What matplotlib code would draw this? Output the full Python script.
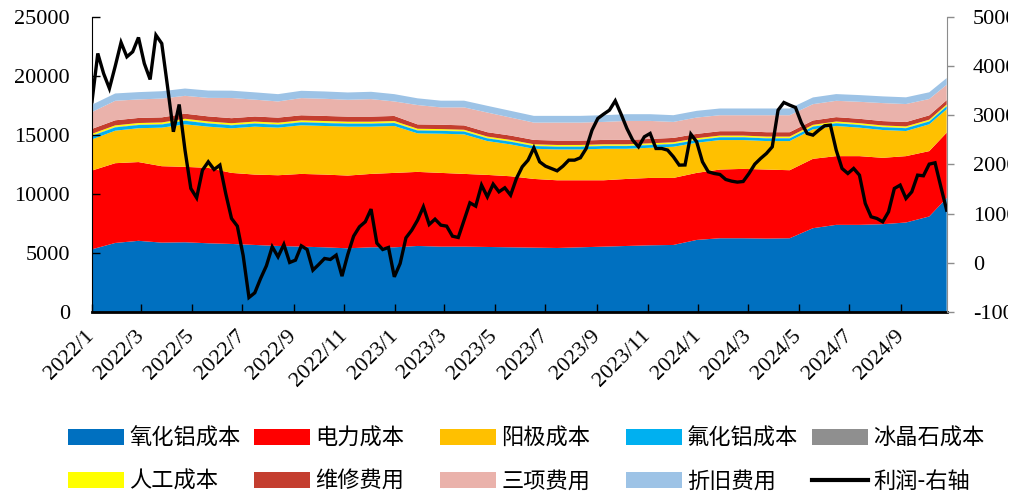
import matplotlib
matplotlib.use('Agg')
import matplotlib.pyplot as plt
import pandas as pd
from matplotlib.patches import Patch
from matplotlib.lines import Line2D
from matplotlib.font_manager import FontProperties
from matplotlib.transforms import Bbox, TransformedBbox

# ---------------- data ----------------
start_date = '2022-01-01'

# weekly profit (right axis)
profit = [3275, 4258, 3850, 3546, 4000, 4482, 4190, 4292, 4583, 4054,
          3729, 4631, 4461, 3580, 2665, 3220, 2292, 1512, 1322, 1885,
          2054, 1898, 1987, 1410, 902, 746, 150, -705, -610, -319,
          -60, 325, 122, 373, 7, 54, 346, 271, -149, -34,
          88, 68, 156, -271, 170, 542, 732, 834, 1092, 400,
          271, 312, -285, -14, 508, 664, 868, 1139, 780, 888,
          766, 746, 542, 515, 868, 1220, 1153, 1580, 1342, 1600,
          1444, 1525, 1376, 1715, 1953, 2088, 2339, 2054, 1966, 1919,
          1871, 1966, 2088, 2088, 2136, 2325, 2698, 2936, 3024, 3105,
          3295, 3024, 2732, 2495, 2359, 2563, 2631, 2325, 2325, 2292,
          2156, 1987, 1990, 2617, 2461, 2054, 1851, 1817, 1797, 1695,
          1661, 1641, 1654, 1817, 2007, 2122, 2224, 2359, 3105, 3261,
          3207, 3159, 2848, 2631, 2597, 2698, 2787, 2800, 2292, 1919,
          1817, 1919, 1783, 1207, 936, 902, 834, 1037, 1512, 1580,
          1309, 1444, 1783, 1770, 2007, 2034, 1546, 1071]

# week numbers at which the cost components were read
area_weeks = [0, 4, 8, 12, 16, 20, 24, 28, 32, 36, 40, 44, 48, 52, 56, 60,
              64, 68, 72, 76, 80, 84, 88, 92, 96, 100, 104, 108, 112, 116,
              120, 124, 128, 132, 136, 140, 144, 147]

alumina = [5311, 5850, 6030, 5879, 5907, 5822, 5765, 5680, 5595, 5538,
           5481, 5396, 5481, 5481, 5595, 5538, 5538, 5510, 5481, 5453,
           5424, 5481, 5538, 5595, 5651, 5680, 6106, 6248, 6248, 6220,
           6248, 7100, 7384, 7384, 7441, 7583, 8094, 9656]
power = [6674, 6759, 6674, 6475, 6390, 6390, 6021, 5964, 5992, 6163,
         6163, 6163, 6220, 6305, 6276, 6248, 6163, 6106, 6021, 5822,
         5737, 5680, 5623, 5680, 5709, 5680, 5680, 5822, 5879, 5850,
         5765, 5879, 5822, 5822, 5623, 5623, 5538, 5538]
anode = [2641, 2755, 2868, 3266, 3607, 3493, 3777, 4061, 4033, 4118,
         4118, 4146, 4004, 3976, 3266, 3323, 3351, 2868, 2698, 2556,
         2613, 2613, 2670, 2556, 2556, 2641, 2556, 2499, 2442, 2414,
         2471, 2499, 2556, 2414, 2357, 2130, 2272, 1988]
alf3 = [300, 280, 270, 270, 300, 270, 260, 260, 250, 250,
        250, 250, 250, 250, 240, 240, 240, 230, 230, 230,
        230, 230, 230, 230, 230, 230, 230, 230, 230, 230,
        230, 230, 230, 230, 235, 240, 240, 250]
cryolite = [40, 40, 40, 40, 40, 40, 40, 40, 40, 40,
            40, 40, 40, 40, 35, 35, 35, 35, 35, 35,
            35, 35, 35, 35, 35, 35, 35, 35, 35, 35,
            35, 35, 35, 35, 35, 35, 35, 35]
labor = [130, 130, 130, 130, 130, 130, 130, 130, 130, 130,
         130, 130, 130, 130, 115, 115, 115, 115, 115, 115,
         115, 115, 115, 115, 115, 115, 115, 115, 115, 115,
         115, 115, 115, 115, 115, 115, 115, 115]
repair = [420, 430, 430, 430, 430, 430, 430, 430, 430, 430,
          430, 430, 430, 430, 370, 370, 370, 370, 370, 370,
          370, 370, 370, 370, 370, 370, 370, 370, 370, 370,
          370, 370, 370, 370, 370, 370, 370, 370]
three_fees = [1427, 1654, 1569, 1597, 1512, 1569, 1711, 1427, 1370, 1455,
              1455, 1427, 1484, 1228, 1639, 1468, 1525, 1667, 1525, 1468,
              1525, 1525, 1525, 1610, 1525, 1355, 1383, 1355, 1355, 1440,
              1440, 1383, 1383, 1440, 1525, 1525, 1383, 1298]
depreciation = [620, 620, 620, 620, 620, 620, 620, 620, 620, 620,
                620, 620, 620, 620, 570, 570, 570, 570, 570, 570,
                570, 570, 570, 570, 570, 570, 570, 570, 570, 570,
                570, 570, 570, 570, 570, 570, 570, 570]

series_names = ['氧化铝成本', '电力成本', '阳极成本', '氟化铝成本', '冰晶石成本',
                '人工成本', '维修费用', '三项费用', '折旧费用']
line_name = '利润-右轴'
colors = ['#0070C0', '#FF0000', '#FFC000', '#00B0F0', '#8F8F8F',
          '#FFFF00', '#C43E2F', '#EAB2AB', '#9DC3E6']

tick_dates = ['2022-01-01', '2022-03-01', '2022-05-01', '2022-07-01', '2022-09-01',
              '2022-11-01', '2023-01-01', '2023-03-01', '2023-05-01', '2023-07-01',
              '2023-09-01', '2023-11-01', '2024-01-01', '2024-03-01', '2024-05-01',
              '2024-07-01', '2024-09-01']
tick_labels = ['2022/1', '2022/3', '2022/5', '2022/7', '2022/9', '2022/11',
               '2023/1', '2023/3', '2023/5', '2023/7', '2023/9', '2023/11',
               '2024/1', '2024/3', '2024/5', '2024/7', '2024/9']

left_ticks = [0, 5000, 10000, 15000, 20000, 25000]
right_ticks = [-1000, 0, 1000, 2000, 3000, 4000, 5000]

# ---------------- figure ----------------
week_dates = pd.date_range(start_date, periods=len(profit), freq='7D')
area_dates = week_dates[area_weeks]

serif = 'Liberation Serif'
fig = plt.figure(figsize=(10.3, 4.96), dpi=100)
ax = fig.add_axes([0.0893, 0.371, 0.8298, 0.5948])

ax.stackplot(area_dates, alumina, power, anode, alf3, cryolite, labor,
             repair, three_fees, depreciation, colors=colors, linewidth=0)
ax.set_xlim(week_dates[0], week_dates[-1])
ax.set_ylim(left_ticks[0], left_ticks[-1])
ax.set_yticks(left_ticks)
ax.set_yticklabels([str(v) for v in left_ticks], fontfamily=serif, fontsize=16)
ax.set_xticks(pd.to_datetime(tick_dates))
ax.set_xticklabels(tick_labels, rotation=45, ha='right', va='center',
                   rotation_mode='anchor', fontfamily=serif, fontsize=16)
ax.tick_params(axis='y', direction='in', length=6, width=1, pad=16, colors='black')
ax.tick_params(axis='x', direction='in', length=6, width=1, pad=15)
for s in ['top', 'right']:
    ax.spines[s].set_visible(False)
ax.spines['left'].set_color('black')
ax.spines['bottom'].set_linewidth(2)

ax2 = ax.twinx()
ax2.plot(week_dates, profit, color='black', linewidth=2.4, solid_joinstyle='miter')
ax2.set_ylim(right_ticks[0], right_ticks[-1])
ax2.set_yticks(right_ticks)
ax2.set_yticklabels([str(v) for v in right_ticks], fontfamily=serif, fontsize=16)
ax2.tick_params(axis='y', direction='out', length=5, width=1, color='#8C8C8C',
                labelcolor='black', pad=14)
for s in ['top', 'left', 'bottom']:
    ax2.spines[s].set_visible(False)
ax2.spines['right'].set_color('#8C8C8C')

# the source image is cut just right of the right-axis labels
clip = TransformedBbox(Bbox([[0, 0], [1008 / 1030, 1]]), fig.transFigure)
for lbl in ax2.get_yticklabels():
    lbl.set_clip_box(clip)
    lbl.set_clip_on(True)

# ---------------- legend ----------------
handles = [Patch(facecolor=c, edgecolor='none') for c in colors]
handles.append(Line2D([], [], color='black', linewidth=3))
labels = series_names + [line_name]
prop = FontProperties(family=['Noto Sans CJK SC', 'DejaVu Sans'], size=16)
col_x = [68, 254, 440, 626, 812]
row_y = [438, 481]
for k, (h, lab) in enumerate(zip(handles, labels)):
    c, r = k % 5, k // 5
    fig.legend([h], [lab], loc='center left',
               bbox_to_anchor=(col_x[c] / 1030, 1 - row_y[r] / 496),
               frameon=False, borderpad=0, borderaxespad=0,
               handlelength=2.5, handleheight=0.7, handletextpad=0.25, prop=prop)

fig.savefig('out.png', dpi=100)
